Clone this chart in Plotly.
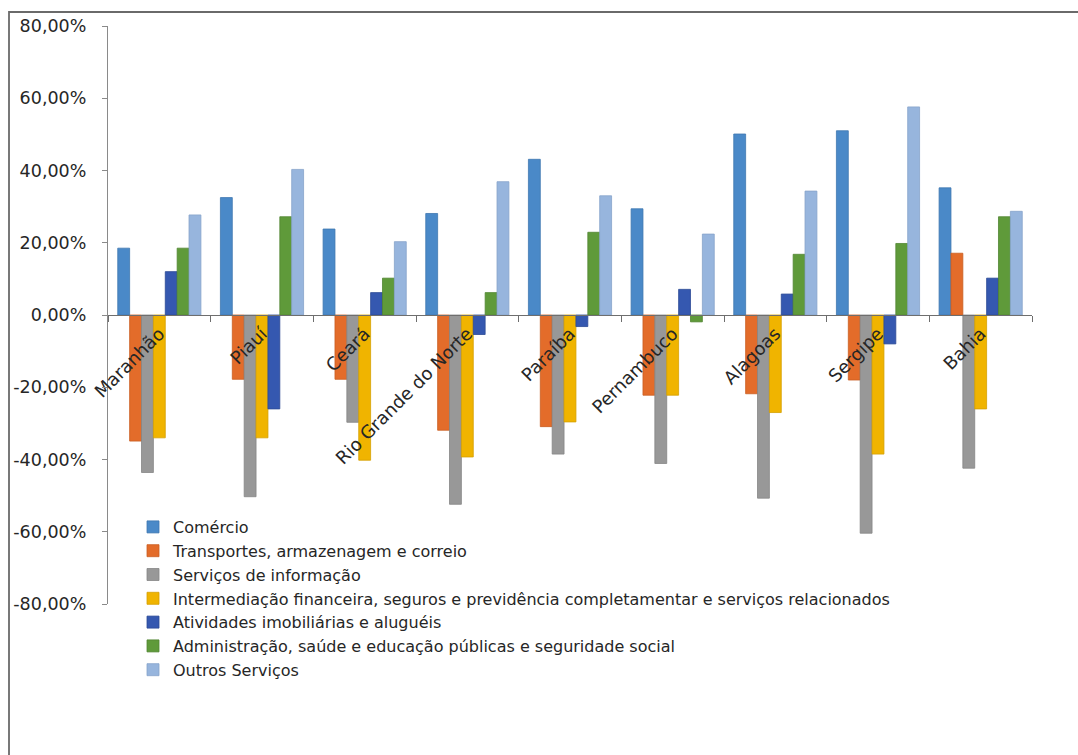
import plotly.graph_objects as go

# Estados do Nordeste (eixo de categorias)
estados = ["Maranhão", "Piauí", "Ceará", "Rio Grande do Norte", "Paraíba",
           "Pernambuco", "Alagoas", "Sergipe", "Bahia"]

# Variação por setor de serviços, em %
comercio = [18.5, 32.5, 23.8, 28.1, 43.1, 29.4, 50.1, 51.0, 35.2]
transportes = [-34.9, -17.8, -17.8, -31.9, -30.9, -22.2, -21.8, -18.0, 17.1]
servicos_informacao = [-43.6, -50.3, -29.7, -52.4, -38.5, -41.1, -50.7, -60.4, -42.4]
intermediacao = [-34.0, -34.0, -40.2, -39.3, -29.6, -22.2, -27.0, -38.5, -26.0]
imobiliarias = [12.0, -26.0, 6.2, -5.4, -3.2, 7.1, 5.8, -8.0, 10.2]
administracao = [18.5, 27.2, 10.2, 6.2, 22.9, -1.9, 16.8, 19.8, 27.2]
outros = [27.7, 40.3, 20.3, 36.9, 33.0, 22.4, 34.3, 57.6, 28.7]

series_nomes = [
    "Comércio",
    "Transportes, armazenagem e correio",
    "Serviços de informação",
    "Intermediação financeira, seguros e previdência completamentar e serviços relacionados",
    "Atividades imobiliárias e aluguéis",
    "Administração, saúde e educação públicas e seguridade social",
    "Outros Serviços",
]
series_valores = [comercio, transportes, servicos_informacao, intermediacao,
                  imobiliarias, administracao, outros]
cores = ["#4A89C8", "#E36C2A", "#989898", "#F0B400", "#3558B0", "#5F9A3A", "#97B5DD"]
bordas = ["#3F77B0", "#C95E22", "#858585", "#D49F00", "#2C4A96", "#518532", "#86A3CA"]

ytick_vals = [-80, -60, -40, -20, 0, 20, 40, 60, 80]
ytick_text = ["-80,00%", "-60,00%", "-40,00%", "-20,00%", "0,00%",
              "20,00%", "40,00%", "60,00%", "80,00%"]

W, H = 1078, 755
L, R, T, B = 108, 46, 26, 151
pw, ph = W - L - R, H - T - B

fig = go.Figure()
for nome, vals, cor, borda in zip(series_nomes, series_valores, cores, bordas):
    fig.add_trace(go.Bar(
        x=estados, y=vals, name=nome,
        marker=dict(color=cor, line=dict(color=borda, width=0.8)),
    ))

# moldura externa do gráfico
fig.add_shape(
    type="rect", xref="paper", yref="paper",
    x0=(9 - L) / pw, x1=(W + 10 - L) / pw,
    y0=-(H + 10 - (T + ph)) / ph, y1=1 + (T - 12) / ph,
    line=dict(color="#6A6A6A", width=1.8), fillcolor="rgba(0,0,0,0)", layer="below",
)

fig.update_layout(
    width=W, height=H,
    margin=dict(l=L, r=R, t=T, b=B, pad=0),
    paper_bgcolor="white", plot_bgcolor="white",
    barmode="group", bargap=0.19, bargroupgap=0,
    font=dict(family="DejaVu Sans", size=16, color="#262626"),
    showlegend=True,
    legend=dict(
        x=(133 - L) / pw, y=(T + ph - 510) / ph,
        xanchor="left", yanchor="top",
        bgcolor="rgba(255,255,255,0)",
        font=dict(family="DejaVu Sans", size=16, color="#262626"),
        tracegroupgap=0, itemwidth=30,
    ),
    xaxis=dict(
        type="category",
        anchor="free", position=0.5,
        showline=True, linecolor="#6E6E6E", linewidth=1.3,
        ticks="outside", tickson="boundaries", ticklen=6, tickcolor="#6E6E6E",
        tickangle=-45,
        tickfont=dict(family="DejaVu Sans", size=18, color="#262626"),
        showgrid=False, zeroline=False,
    ),
    yaxis=dict(
        range=[-80, 80],
        tickvals=ytick_vals, ticktext=ytick_text,
        showline=True, linecolor="#8A8A8A", linewidth=1.3,
        ticks="outside", ticklen=5, tickcolor="#8A8A8A",
        ticklabelstandoff=12,
        tickfont=dict(family="DejaVu Sans", size=17.5, color="#262626"),
        showgrid=False, zeroline=False,
    ),
)

fig.write_html("out.html")
